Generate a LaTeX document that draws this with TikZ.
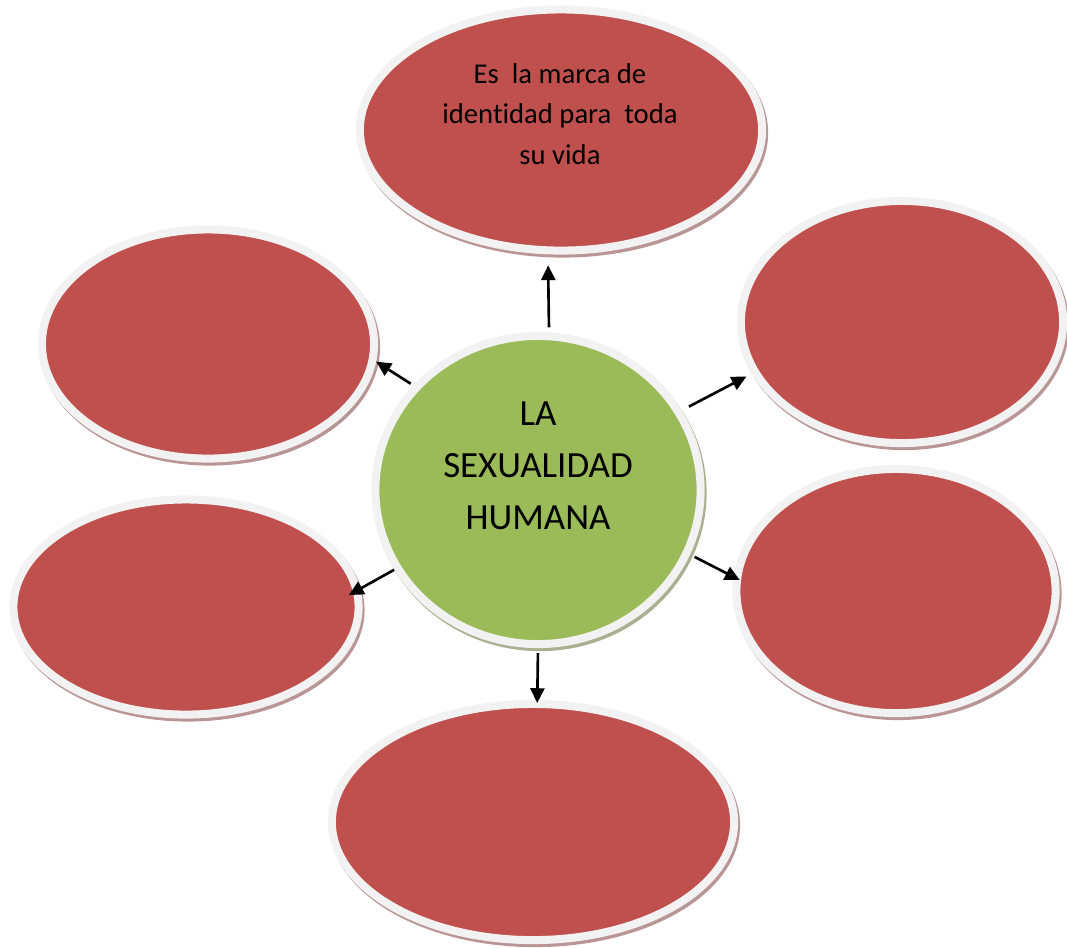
\documentclass[tikz,border=0pt]{standalone}
\usepackage{fontspec}
\setmainfont{Carlito}[Ligatures={NoCommon,NoContextual}, Contextuals=NoAlternate]
\usetikzlibrary{arrows.meta,shapes.geometric}
\definecolor{bubblered}{HTML}{C0504D}
\definecolor{bubblegreen}{HTML}{9BBB59}
\definecolor{rimgray}{HTML}{F2F2F2}
\definecolor{redshadow}{HTML}{B99595}
\definecolor{greenshadow}{HTML}{A7B08F}
\tikzset{
  bubble/.style={ellipse, inner sep=0pt, draw=rimgray, line width=0.08cm, fill=bubblered,
    preaction={draw=redshadow, fill=redshadow, transform canvas={shift={(0.02cm,-0.03cm)}}}},
  hub/.style={ellipse, inner sep=0pt, draw=rimgray, line width=0.08cm, fill=bubblegreen,
    preaction={draw=greenshadow, fill=greenshadow, transform canvas={shift={(0.02cm,-0.03cm)}}}},
  link/.style={line width=0.75pt, draw=black, -{Triangle[length=4.2pt,width=4pt]}},
  smalltext/.style={align=center, font=\fontsize{8.15}{11.6}\selectfont, inner sep=0pt},
  bigtext/.style={align=center, font=\fontsize{10.5}{14.75}\selectfont, inner sep=0pt}
}
\begin{document}
\begin{tikzpicture}[x=0.01cm, y=-0.01cm]
\useasboundingbox (0,0) rectangle (1067,947);
\node[bubble, minimum width=4.02cm, minimum height=2.41cm] (top) at (561,130) {};
\node[bubble, minimum width=3.32cm, minimum height=2.29cm] (lt) at (208,344) {};
\node[bubble, minimum width=3.22cm, minimum height=2.42cm] (rt) at (902,322) {};
\node[bubble, minimum width=3.45cm, minimum height=2.15cm] (lb) at (186,607) {};
\node[bubble, minimum width=3.19cm, minimum height=2.44cm] (rb) at (896,591) {};
\node[bubble, minimum width=4.02cm, minimum height=2.36cm] (bot) at (533,822) {};
\node[hub, minimum width=3.25cm, minimum height=3.08cm] (c) at (538,490) {};
\node[smalltext] (toptext) at (560,114) {Es\ \ la marca de\\identidad para\ \ toda\\su vida};
\node[bigtext] (hubtext) at (538,466) {LA\\SEXUALIDAD\\HUMANA};
\draw[link, shorten <=0.05cm, shorten >=0.11cm] (c.86.5) -- (top.264.5);
\draw[link, shorten <=0.03cm] (c.140) -- (lt.354);
\draw[link, shorten <=0.08cm, shorten >=0.06cm] (c.29.4) -- (rt.199);
\draw[link, shorten >=-0.13cm] (c.209.6) -- (lb.6);
\draw[link, shorten <=0.05cm, shorten >=-0.07cm] (c.337) -- (rb.175);
\draw[link, shorten <=0.05cm, shorten >=-0.03cm] (c.270) -- (bot.88);
\end{tikzpicture}
\end{document}
